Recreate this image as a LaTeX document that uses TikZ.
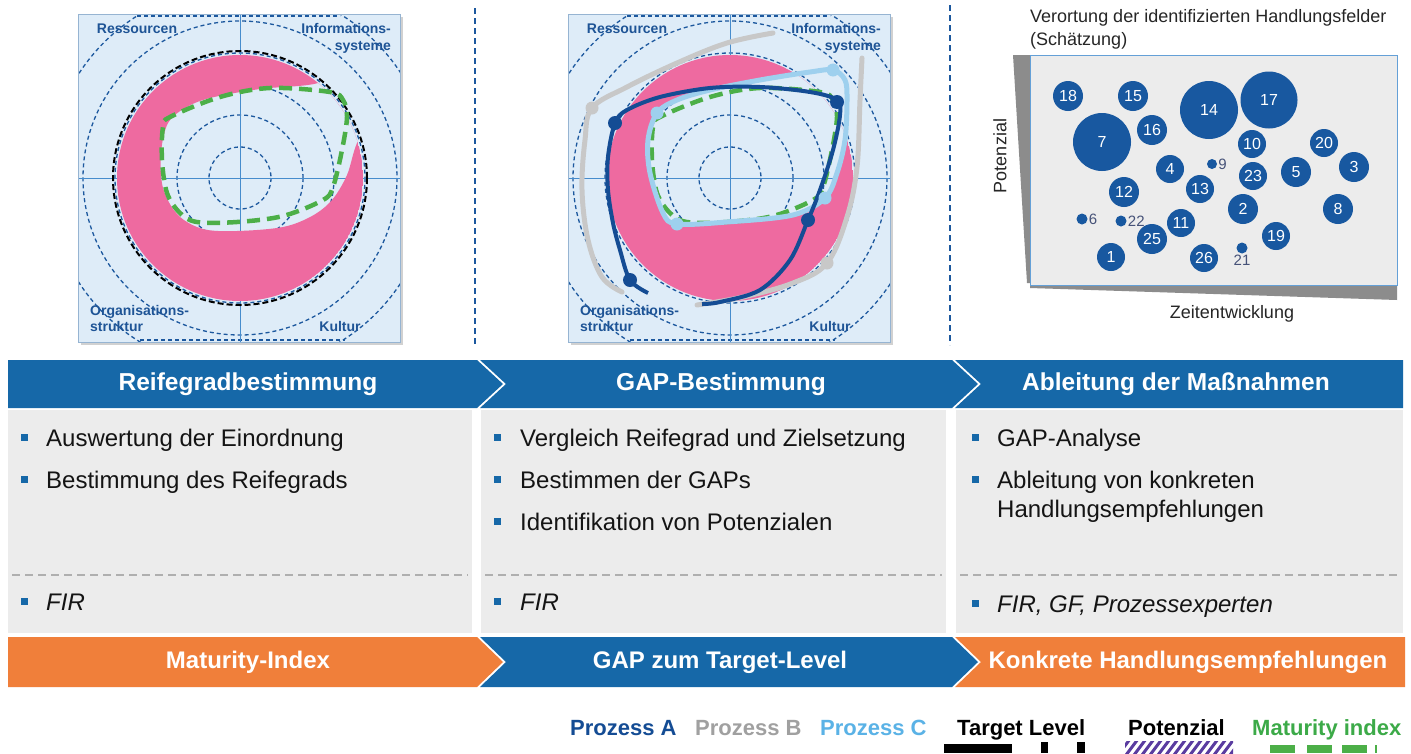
\documentclass[tikz,border=0pt]{standalone}
\usepackage{fontspec}
\setmainfont{Liberation Sans}
\usetikzlibrary{calc}

\definecolor{barblue}{RGB}{22,104,168}
\definecolor{barorange}{RGB}{240,127,58}
\definecolor{boxgray}{RGB}{236,236,236}
\definecolor{radarfill}{RGB}{222,236,248}
\definecolor{ringblue}{RGB}{28,88,158}
\definecolor{axisblue}{RGB}{70,140,205}
\definecolor{framec}{RGB}{150,180,210}
\definecolor{pinkc}{RGB}{238,106,160}
\definecolor{greenc}{RGB}{76,175,72}
\definecolor{procA}{RGB}{20,76,148}
\definecolor{procB}{RGB}{200,200,200}
\definecolor{procC}{RGB}{158,208,238}
\definecolor{lblblue}{RGB}{30,84,150}
\definecolor{bubblec}{RGB}{24,88,160}
\definecolor{dotlbl}{RGB}{70,82,120}
\definecolor{chartframe}{RGB}{100,160,215}
\definecolor{wedgegray}{RGB}{140,140,140}
\definecolor{legB}{RGB}{160,160,160}
\definecolor{legC}{RGB}{90,178,230}
\definecolor{legGreen}{RGB}{60,170,72}
\definecolor{hatchc}{RGB}{90,60,160}
\definecolor{dashgray}{RGB}{175,175,175}

\tikzset{
  ring/.style={draw=ringblue, line width=1.3, dash pattern=on 4 off 3},
  axisline/.style={draw=axisblue, line width=1},
  sepdash/.style={draw=ringblue, line width=2, dash pattern=on 6 off 4},
  greendash/.style={draw=greenc, line width=4.5, dash pattern=on 13 off 7},
  dimlabel/.style={inner sep=0, text=lblblue, font=\bfseries\fontsize{14}{16}\selectfont},
  head/.style={inner sep=0, text=white, font=\bfseries\fontsize{24.5}{28}\selectfont},
  foot/.style={inner sep=0, text=white, font=\bfseries\fontsize{24}{28}\selectfont},
  body/.style={anchor=base west, inner sep=0, text=black!92, font=\fontsize{24}{29}\selectfont},
  bulletsq/.style={fill=barblue, minimum size=7, inner sep=0},
  bub/.style={circle, fill=bubblec, inner sep=0, text=white, font=\fontsize{16}{18}\selectfont},
  bubdot/.style={circle, fill=bubblec, inner sep=0},
  dotlabel/.style={inner sep=1, text=dotlbl, font=\fontsize{15}{17}\selectfont},
  chartlbl/.style={inner sep=0, text=black!85, font=\fontsize{18}{21}\selectfont},
  legend/.style={anchor=base west, inner sep=0, font=\bfseries\fontsize{22}{26}\selectfont},
  dotA/.style={circle, fill=procA, minimum size=14, inner sep=0},
  dotB/.style={circle, fill=procB, minimum size=13, inner sep=0},
  dotC/.style={circle, fill=procC, minimum size=13, inner sep=0},
}

% background of one radar panel: tinted square, dashed rings, axes
\newcommand{\radarbase}{%
  \fill[black!18] (-159,-161) rectangle (163,167);
  \fill[radarfill] (-162,-164) rectangle (160,164);
  \begin{scope}
    \clip (-162,-164) rectangle (160,164);
    \foreach \r in {31,63,94,125,157,192} \draw[ring] (0,0) circle (\r);
  \end{scope}
  \draw[ring] (-103,-162) -- (100,-162);
  \draw[ring] (-100,162) -- (105,162);
  \draw[axisline] (-162,0) -- (160,0);
  \draw[axisline] (0,-164) -- (0,164);
}
% frame and dimension names of one radar panel
\newcommand{\radarlabels}[1]{%
  \draw[framec, line width=1] (-162,-164) rectangle (160,164);
  \node[dimlabel, anchor=base] (#1res) at (-103,-145) {Ressourcen};
  \node[dimlabel, anchor=base east] (#1infa) at (151,-145) {Informations-};
  \node[dimlabel, anchor=base east] (#1infb) at (151,-128) {systeme};
  \node[dimlabel, anchor=base west] (#1orga) at (-150,137) {Organisations-};
  \node[dimlabel, anchor=base west] (#1orgb) at (-150,153) {struktur};
  \node[dimlabel, anchor=base] (#1kul) at (100,153) {Kultur};
}
% target shape (maturity index) drawn as green dashed loop
\newcommand{\maturityloop}{%
  \draw[greendash] plot[smooth cycle, tension=0.55] coordinates {
    (-70,-61) (-20,-81) (30,-90) (90,-86) (103,-78) (107,-61) (102,-28)
    (93,9) (83,22) (43,38) (-3,44) (-43,44) (-60,35) (-73,15) (-78,-18) (-77,-51)};
}

\begin{document}
\begin{tikzpicture}[x=1pt, y=-1pt]
\useasboundingbox (0,0) rectangle (1411,753);
\fill[white] (0,0) rectangle (1411,753);

% ---------- panel 1: Reifegrad ----------
\begin{scope}[shift={(240,178)}]
  \radarbase
  \begin{scope}
    \clip (0,0) circle (123);
    \fill[pinkc, even odd rule] (0,0) circle (123)
      plot[smooth cycle, tension=0.55] coordinates {
        (78,-95) (20,-89) (-30,-80) (-55,-70) (-72,-55) (-79,-25) (-77,10)
        (-62,37) (-37,51) (-3,53) (43,49) (72,38) (92,22) (107,-3) (117,-35)
        (135,-65) (140,-100) (110,-115)};
  \end{scope}
  \draw[black, line width=2, dash pattern=on 6 off 3] (0,0) circle (127);
  \maturityloop
  \radarlabels{ra}
\end{scope}

% ---------- panel 2: GAP ----------
\begin{scope}[shift={(730,178)}]
  \radarbase
  \begin{scope}
    \clip (0,0) circle (123);
    \clip plot[smooth] coordinates {(-82,115) (-100,102) (-110,72) (-117,45)
        (-122,12) (-122,-21) (-115,-55)}
      -- (-115,-200) -- (200,-200) -- (200,200) -- (-82,200) -- cycle;
    \fill[pinkc, even odd rule] (0,0) circle (123)
      plot[smooth cycle, tension=0.55] coordinates {
        (-73,-65) (-53,-78) (-20,-88) (30,-98) (80,-106) (103,-108) (115,-98)
        (117,-78) (115,-38) (107,-5) (95,20) (63,37) (-3,44) (-53,46) (-67,35)
        (-80,-5) (-82,-38)};
  \end{scope}
  % Prozess B
  \draw[procB, line width=5, line cap=round] plot[smooth, tension=0.6] coordinates {
    (43,-145) (-3,-135) (-53,-115) (-103,-91) (-138,-70) (-145,-38) (-148,12)
    (-142,62) (-128,99) (-108,114)};
  \draw[procB, line width=5, line cap=round] plot[smooth, tension=0.6] coordinates {
    (132,-120) (130,-78) (127,-11) (117,39) (97,85) (63,105) (13,119) (-33,127)};
  \maturityloop
  % Prozess C
  \draw[procC, line width=5] plot[smooth cycle, tension=0.55] coordinates {
    (-73,-65) (-53,-78) (-20,-88) (30,-98) (80,-106) (103,-108) (115,-98)
    (117,-78) (115,-38) (107,-5) (95,20) (63,37) (-3,44) (-53,46) (-67,35)
    (-80,-5) (-82,-38)};
  % Prozess A
  \draw[procA, line width=4] plot[smooth, tension=0.55] coordinates {
    (-82,115) (-100,102) (-110,72) (-117,45) (-122,12) (-122,-21) (-115,-55)
    (-103,-68) (-70,-81) (-20,-90) (30,-91) (80,-86) (107,-78) (110,-63)
    (103,-28) (90,12) (78,42) (60,82) (30,112) (-10,124) (-28,126)};
  \node[dotB] (pb1) at (-138,-70) {};
  \node[dotB] (pb2) at (97,85) {};
  \node[dotC] (pc1) at (103,-108) {};
  \node[dotC] (pc2) at (-73,-65) {};
  \node[dotC] (pc3) at (-53,46) {};
  \node[dotC] (pc4) at (95,20) {};
  \node[dotA] (pa1) at (-115,-55) {};
  \node[dotA] (pa2) at (107,-76) {};
  \node[dotA] (pa3) at (78,42) {};
  \node[dotA] (pa4) at (-100,102) {};
  \radarlabels{rb}
\end{scope}

% separators between the upper panels
\draw[sepdash] (475,8) -- (475,345);
\draw[sepdash] (950,5) -- (950,345);

% ---------- panel 3: bubble chart ----------
\fill[wedgegray] (1013,55) -- (1030,55) -- (1030,283) -- (1027,283) -- cycle;
\fill[wedgegray] (1030,285) -- (1397,285) -- (1397,300) -- (1030,288) -- cycle;
\fill[boxgray] (1030,55) rectangle (1397,285);
\draw[chartframe, line width=1] (1030,55) rectangle (1397,285);
\node[chartlbl, anchor=base west] (ctitle) at (1030,22) {Verortung der identifizierten Handlungsfelder};
\node[chartlbl, anchor=base west] (csub) at (1030,45) {(Schätzung)};
\node[chartlbl, rotate=90] (cy) at (1000,156) {Potenzial};
\node[chartlbl, anchor=base] (cx) at (1232,318) {Zeitentwicklung};

\node[bub, minimum size=30] (b18) at (1068,96) {18};
\node[bub, minimum size=30] (b15) at (1133,96) {15};
\node[bub, minimum size=58] (b14) at (1209,110) {14};
\node[bub, minimum size=57] (b17) at (1269,100) {17};
\node[bub, minimum size=58] (b7) at (1102,142) {7};
\node[bub, minimum size=30] (b16) at (1152,130) {16};
\node[bub, minimum size=28] (b10) at (1252,144) {10};
\node[bub, minimum size=28] (b20) at (1324,143) {20};
\node[bub, minimum size=28] (b4) at (1170,169) {4};
\node[bubdot, minimum size=10] (b9) at (1212,164) {};
\node[dotlabel, anchor=west] (l9) at (b9.east) {9};
\node[bub, minimum size=28] (b23) at (1253,176) {23};
\node[bub, minimum size=30] (b5) at (1296,172) {5};
\node[bub, minimum size=30] (b3) at (1354,167) {3};
\node[bub, minimum size=30] (b12) at (1124,192) {12};
\node[bub, minimum size=28] (b13) at (1200,189) {13};
\node[bub, minimum size=30] (b2) at (1243,209) {2};
\node[bub, minimum size=30] (b8) at (1338,209) {8};
\node[bubdot, minimum size=11] (b6) at (1082,219) {};
\node[dotlabel, anchor=west] (l6) at (b6.east) {6};
\node[bubdot, minimum size=11] (b22) at (1121,221) {};
\node[dotlabel, anchor=west] (l22) at (b22.east) {22};
\node[bub, minimum size=28] (b11) at (1181,223) {11};
\node[bub, minimum size=30] (b25) at (1152,239) {25};
\node[bub, minimum size=28] (b19) at (1276,236) {19};
\node[bub, minimum size=28] (b1) at (1111,257) {1};
\node[bub, minimum size=28] (b26) at (1204,258) {26};
\node[bubdot, minimum size=11] (b21) at (1242,248) {};
\node[dotlabel, anchor=north] (l21) at (b21.south) {21};

% ---------- phase chevrons ----------
\fill[barblue] (8,360) -- (477,360) -- (503,384) -- (477,408) -- (8,408) -- cycle;
\fill[barblue] (480,360) -- (952,360) -- (978,384) -- (952,408) -- (480,408) -- (506,384) -- cycle;
\fill[barblue] (955,360) -- (1403,360) -- (1403,408) -- (955,408) -- (981,384) -- cycle;
\node[head] (h1) at (248,384) {Reifegradbestimmung};
\node[head] (h2) at (721,384) {GAP-Bestimmung};
\node[head] (h3) at (1176,384) {Ableitung der Maßnahmen};

% ---------- content boxes ----------
\fill[boxgray] (8,410) rectangle (472,633);
\fill[boxgray] (481,410) rectangle (946,633);
\fill[boxgray] (956,410) rectangle (1403,633);
\draw[dashgray, line width=1.5, dash pattern=on 8 off 5] (12,575) -- (468,575);
\draw[dashgray, line width=1.5, dash pattern=on 8 off 5] (485,575) -- (942,575);
\draw[dashgray, line width=1.5, dash pattern=on 8 off 5] (960,575) -- (1399,575);

\node[bulletsq] (s11) at (24,437) {};
\node[body] (t11) at (46,446) {Auswertung der Einordnung};
\node[bulletsq] (s12) at (24,479) {};
\node[body] (t12) at (46,488) {Bestimmung des Reifegrads};
\node[bulletsq] (s13) at (24,601) {};
\node[body] (t13) at (46,610) {\itshape FIR};

\node[bulletsq] (s21) at (497,437) {};
\node[body] (t21) at (520,446) {Vergleich Reifegrad und Zielsetzung};
\node[bulletsq] (s22) at (497,479) {};
\node[body] (t22) at (520,488) {Bestimmen der GAPs};
\node[bulletsq] (s23) at (497,521) {};
\node[body] (t23) at (520,530) {Identifikation von Potenzialen};
\node[bulletsq] (s24) at (497,601) {};
\node[body] (t24) at (520,610) {\itshape FIR};

\node[bulletsq] (s31) at (975,437) {};
\node[body] (t31) at (997,446) {GAP-Analyse};
\node[bulletsq] (s32) at (975,479) {};
\node[body] (t32) at (997,488) {Ableitung von konkreten};
\node[body] (t32b) at (997,517) {Handlungsempfehlungen};
\node[bulletsq] (s33) at (975,603) {};
\node[body] (t33) at (997,612) {\itshape FIR, GF, Prozessexperten};

% ---------- result chevrons ----------
\fill[barorange] (8,637) -- (477,637) -- (503,662) -- (477,687) -- (8,687) -- cycle;
\fill[barblue] (480,637) -- (952,637) -- (978,662) -- (952,687) -- (480,687) -- (506,662) -- cycle;
\fill[barorange] (955,637) -- (1405,637) -- (1405,687) -- (955,687) -- (981,662) -- cycle;
\node[foot] (f1) at (248,662) {Maturity-Index};
\node[foot] (f2) at (720,662) {GAP zum Target-Level};
\node[foot] (f3) at (1188,662) {Konkrete Handlungsempfehlungen};

% ---------- legend ----------
\node[legend, text=procA] (lgA) at (570,735) {Prozess A};
\node[legend, text=legB] (lgB) at (695,735) {Prozess B};
\node[legend, text=legC] (lgC) at (820,735) {Prozess C};
\node[legend, text=black] (lgT) at (957,735) {Target Level};
\node[legend, text=black] (lgP) at (1128,735) {Potenzial};
\node[legend, text=legGreen] (lgM) at (1252,735) {Maturity index};

\fill[black] (944,744) rectangle (1012,753);
\fill[black] (1041,742) rectangle (1048,753);
\fill[black] (1077,742) rectangle (1085,753);
\begin{scope}
  \clip (1125,741) rectangle (1233,753);
  \foreach \i in {0,...,15} \draw[hatchc, line width=3] (1118+\i*8,755) -- (1130+\i*8,739);
\end{scope}
\fill[greenc] (1270,745) rectangle (1295,753);
\fill[greenc] (1307,745) rectangle (1332,753);
\fill[greenc] (1342,745) rectangle (1367,753);
\fill[greenc] (1375,745) rectangle (1377,753);
\end{tikzpicture}
\end{document}
